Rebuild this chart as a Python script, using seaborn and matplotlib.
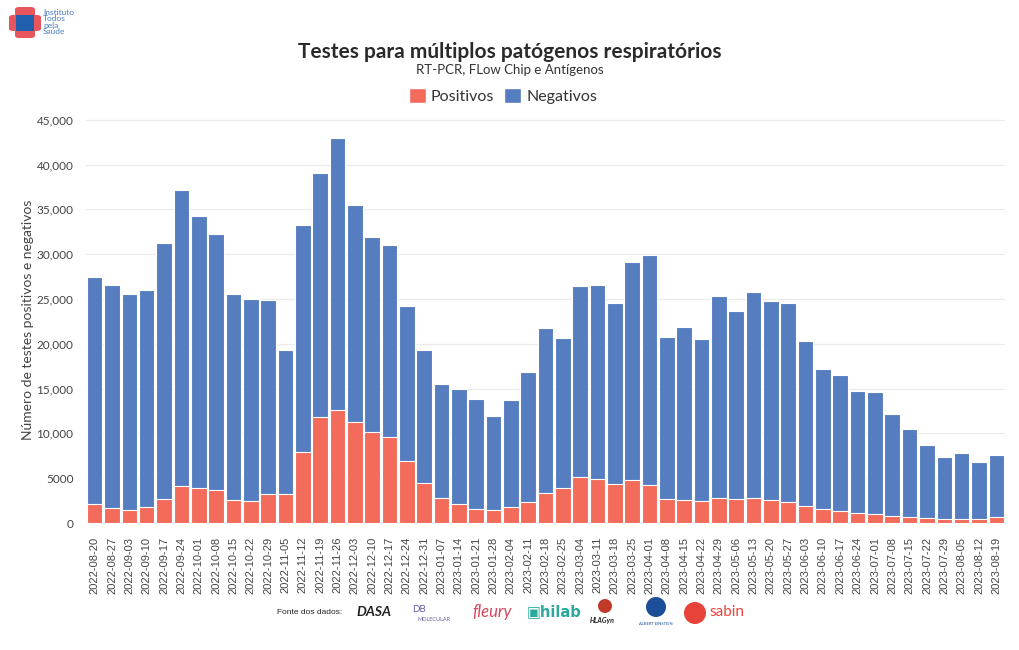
import numpy as np
import pandas as pd
import matplotlib
matplotlib.use("Agg")
import matplotlib.pyplot as plt
import seaborn as sns
from matplotlib.patches import Patch, FancyBboxPatch, Ellipse

# semanas epidemiológicas (rótulos do eixo x)
semanas = [
    "2022-08-20", "2022-08-27", "2022-09-03", "2022-09-10", "2022-09-17",
    "2022-09-24", "2022-10-01", "2022-10-08", "2022-10-15", "2022-10-22",
    "2022-10-29", "2022-11-05", "2022-11-12", "2022-11-19", "2022-11-26",
    "2022-12-03", "2022-12-10", "2022-12-17", "2022-12-24", "2022-12-31",
    "2023-01-07", "2023-01-14", "2023-01-21", "2023-01-28", "2023-02-04",
    "2023-02-11", "2023-02-18", "2023-02-25", "2023-03-04", "2023-03-11",
    "2023-03-18", "2023-03-25", "2023-04-01", "2023-04-08", "2023-04-15",
    "2023-04-22", "2023-04-29", "2023-05-06", "2023-05-13", "2023-05-20",
    "2023-05-27", "2023-06-03", "2023-06-10", "2023-06-17", "2023-06-24",
    "2023-07-01", "2023-07-08", "2023-07-15", "2023-07-22", "2023-07-29",
    "2023-08-05", "2023-08-12", "2023-08-19",
]

positivos = [
    2080, 1640, 1410, 1820, 2670, 4090, 3870, 3680, 2560, 2410,
    3230, 3190, 7900, 11800, 12660, 11250, 10100, 9540, 6870, 4460,
    2750, 2080, 1520, 1410, 1750, 2300, 3340, 3870, 5090, 4870,
    4310, 4760, 4200, 2640, 2560, 2410, 2780, 2670, 2750, 2530,
    2340, 1860, 1560, 1300, 1080, 970, 740, 630, 520, 450,
    450, 450, 630,
]

negativos = [
    25420, 24960, 24090, 24180, 28530, 33110, 30430, 28520, 22940, 22590,
    21670, 16110, 25400, 27300, 30340, 24250, 21800, 21460, 17330, 14840,
    12750, 12880, 12280, 10540, 11950, 14600, 18460, 16730, 21310, 21630,
    20290, 24340, 25700, 18060, 19340, 18090, 22520, 20930, 23050, 22270,
    22160, 18440, 15590, 15200, 13620, 13630, 11460, 9870, 8200, 6870,
    7310, 6310, 6940,
]

COR_POS = "#F26B5B"
COR_NEG = "#557DBF"

df = pd.DataFrame({"semana": semanas, "positivos": positivos, "negativos": negativos})
df["total"] = df["positivos"] + df["negativos"]

sns.set_theme(style="white")
plt.rcParams["font.family"] = ["Lato", "DejaVu Sans"]

fig = plt.figure(figsize=(10.2, 6.5), dpi=100)
ax = fig.add_axes([86 / 1020, 1 - 523 / 650, 919 / 1020, (523 - 117) / 650])

# barras empilhadas: total (azul) e positivos (vermelho) por cima
sns.barplot(data=df, x="semana", y="total", color=COR_NEG, width=0.9,
            edgecolor="white", linewidth=0.8, saturation=1, ax=ax, zorder=2)
sns.barplot(data=df, x="semana", y="positivos", color=COR_POS, width=0.9,
            edgecolor="white", linewidth=0.8, saturation=1, ax=ax, zorder=3)

ax.set_xlim(-0.5, len(semanas) - 0.5)
ax.set_ylim(0, 45300)
yt = np.arange(0, 45001, 5000)
ax.set_yticks(yt)
ax.set_yticklabels([f"{v:,}" if v >= 10000 else f"{v}" for v in yt])
ax.yaxis.grid(True, color="#EBEBEB", linewidth=0.9, zorder=0)
ax.set_axisbelow(True)
for s in ax.spines.values():
    s.set_visible(False)

ax.tick_params(axis="x", rotation=90, labelsize=8, colors="#444444",
               length=4, color="#DDDDDD", pad=6)
ax.tick_params(axis="y", labelsize=8.5, colors="#444444", length=0, pad=9)
for lbl in ax.get_xticklabels():
    lbl.set_fontfamily(["Liberation Sans", "DejaVu Sans"])
ax.set_xlabel("")
ax.set_ylabel("Número de testes positivos e negativos", fontsize=10,
              color="#444444", labelpad=2)

# títulos
fig.text(0.5, 1 - 52 / 650, "Testes para múltiplos patógenos respiratórios",
         ha="center", va="center", fontsize=15, fontweight="bold", color="#2A2A2A")
fig.text(0.5, 1 - 70 / 650, "RT-PCR, FLow Chip e Antígenos",
         ha="center", va="center", fontsize=9.5, color="#333333")

handles = [Patch(facecolor=COR_POS, label="Positivos"),
           Patch(facecolor=COR_NEG, label="Negativos")]
fig.legend(handles=handles, loc="center", bbox_to_anchor=(0.493, 1 - 96 / 650),
           ncol=2, frameon=False, fontsize=11.5, handlelength=1.1,
           handleheight=1.1, handletextpad=0.3, columnspacing=0.6,
           labelcolor="#333333")

# logo do instituto (canto superior esquerdo)
def px(x, y):
    return x / 1020, 1 - y / 650

def bolinha(x, y, r, cor):
    fig.add_artist(Ellipse(px(x, y), 2 * r / 1020, 2 * r / 650,
                           transform=fig.transFigure, facecolor=cor, edgecolor="none"))

for (x0, y0, w, h) in [(9, 15, 32, 16), (15, 7, 20, 31)]:
    fx, fy = px(x0, y0 + h)
    fig.add_artist(FancyBboxPatch((fx, fy), w / 1020, h / 650,
                                  boxstyle="round,pad=0,rounding_size=0.004",
                                  facecolor="#E8555A", edgecolor="none",
                                  transform=fig.transFigure))
fx, fy = px(16, 31)
fig.add_artist(FancyBboxPatch((fx, fy), 18 / 1020, 16 / 650, boxstyle="square,pad=0",
                              facecolor="#1F5FAD", edgecolor="none",
                              transform=fig.transFigure))
fig.text(*px(43, 22), "Instituto\nTodos\npela\nSaúde", ha="left", va="center",
         fontsize=6, color="#4A7CC0", linespacing=0.9)

# fontes dos dados (rodapé)
yb = 1 - 612 / 650
fig.text(277 / 1020, yb, "Fonte dos dados:", fontsize=6, color="#222222",
         va="center", family=["Liberation Sans", "DejaVu Sans"])
fig.text(356 / 1020, yb, "DASA", fontsize=10, color="#222222", va="center",
         fontweight="bold", fontstyle="italic")
fig.text(412 / 1020, yb + 0.004, "DB", fontsize=7, color="#6B5BA8", va="center")
fig.text(418 / 1020, yb - 0.012, "MOLECULAR", fontsize=4, color="#6B5BA8", va="center")
fig.text(472 / 1020, yb, "fleury", fontsize=12, color="#D9445C", va="center",
         fontstyle="italic")
fig.text(527 / 1020, yb, "\u25a3hilab", fontsize=10.5, color="#2AA89A", va="center",
         fontweight="bold", family=["DejaVu Sans"])
bolinha(605, 606, 7, "#C0392B")
fig.text(590 / 1020, 1 - 620 / 650, "HLAGyn", fontsize=5, color="#222222",
         va="center", fontweight="bold", fontstyle="italic")
bolinha(656, 607, 10, "#1D4E9A")
fig.text(656 / 1020, 1 - 624 / 650, "ALBERT EINSTEIN", fontsize=3, color="#1D4E9A",
         ha="center", va="center")
bolinha(695, 613, 11, "#E8433B")
fig.text(709 / 1020, yb, "sabin", fontsize=11, color="#E8433B", va="center")

fig.savefig("out.png", dpi=100)
